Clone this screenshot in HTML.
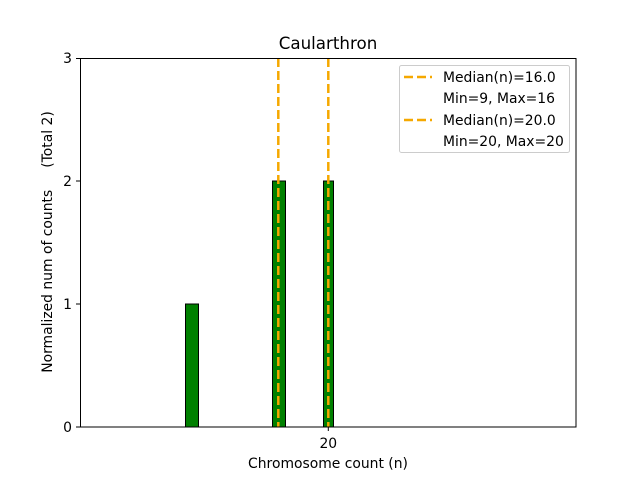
<!DOCTYPE html>
<html><head><style>body{margin:0;background:#fff}svg{display:block}text{font-family:"DejaVu Sans","Liberation Sans",sans-serif;fill:#000}</style></head>
<body><svg width="640" height="480" viewBox="0 0 640 480">
<rect width="640" height="480" fill="#fff"/>
<text x="328" y="49" font-size="16.7" text-anchor="middle">Caularthron</text>
<rect x="185.5" y="304" width="13" height="123" fill="#008000" stroke="#000" stroke-width="1"/>
<rect x="272.5" y="181" width="13" height="246" fill="#008000" stroke="#000" stroke-width="1"/>
<rect x="323.5" y="181" width="10" height="246" fill="#008000" stroke="#000" stroke-width="1"/>
<line x1="278.3" y1="58" x2="278.3" y2="427" stroke="#f5a800" stroke-width="2.5" stroke-dasharray="9,4"/>
<line x1="328.3" y1="58" x2="328.3" y2="427" stroke="#f5a800" stroke-width="2.5" stroke-dasharray="9,4"/>
<rect x="80.5" y="58.5" width="495.5" height="368.5" fill="none" stroke="#000" stroke-width="1"/>
<g stroke="#000" stroke-width="1">
<line x1="76" y1="427" x2="80" y2="427"/><line x1="76" y1="304" x2="80" y2="304"/><line x1="76" y1="181" x2="80" y2="181"/><line x1="76" y1="58.5" x2="80" y2="58.5"/>
<line x1="328.3" y1="427" x2="328.3" y2="431"/>
</g>
<g font-size="13.9" text-anchor="end">
<text x="72" y="432">0</text><text x="72" y="309">1</text><text x="72" y="186">2</text><text x="72" y="63">3</text>
</g>
<text x="328.3" y="448" font-size="13.9" text-anchor="middle">20</text>
<text x="328" y="468" font-size="13.9" text-anchor="middle">Chromosome count (n)</text>
<text transform="translate(52,242) rotate(-90)" font-size="13.9" text-anchor="middle" style="white-space:pre" xml:space="preserve">Normalized num of counts     (Total 2)</text>
<rect x="399.5" y="65.5" width="170" height="87" rx="2" fill="#fff" stroke="#ccc" stroke-width="1"/>
<line x1="404" y1="77" x2="432" y2="77" stroke="#f5a800" stroke-width="2.5" stroke-dasharray="9,4"/>
<line x1="404" y1="120" x2="432" y2="120" stroke="#f5a800" stroke-width="2.5" stroke-dasharray="9,4"/>
<g font-size="13.9">
<text x="443" y="82">Median(n)=16.0</text>
<text x="443" y="103">Min=9, Max=16</text>
<text x="443" y="125">Median(n)=20.0</text>
<text x="443" y="146">Min=20, Max=20</text>
</g>
</svg></body></html>
